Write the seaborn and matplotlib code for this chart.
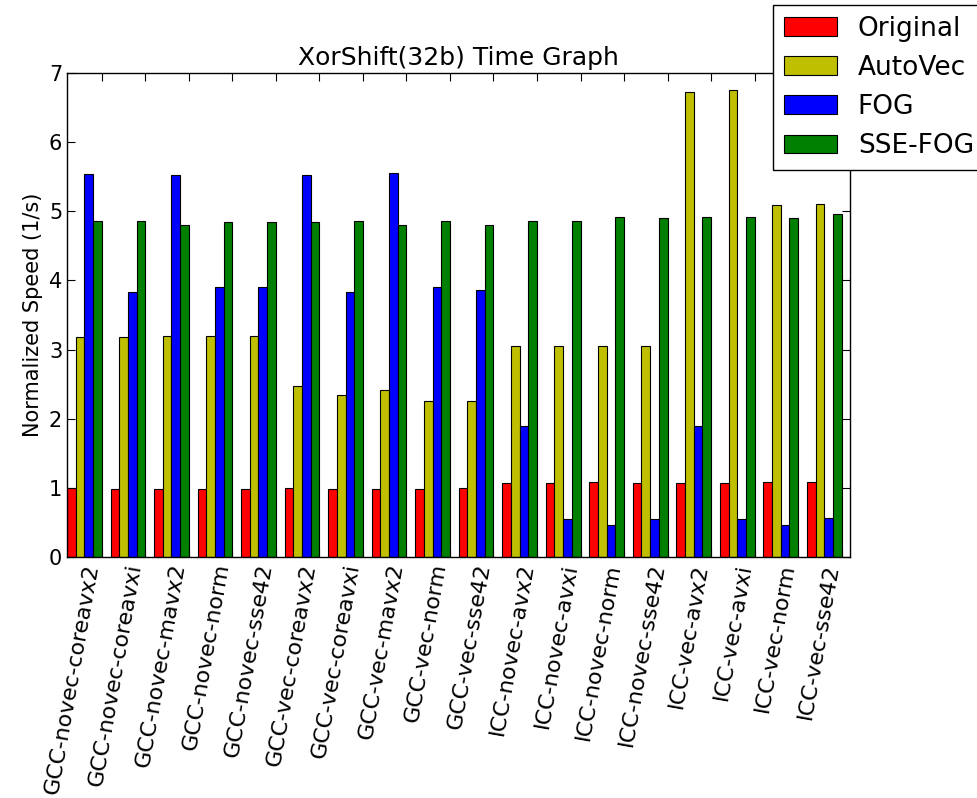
import numpy as np
import pandas as pd
import matplotlib
matplotlib.use("Agg")
import matplotlib.pyplot as plt
import seaborn as sns

# configuraciones compiladas
configs = [
    "GCC-novec-coreavx2", "GCC-novec-coreavxi", "GCC-novec-mavx2", "GCC-novec-norm",
    "GCC-novec-sse42", "GCC-vec-coreavx2", "GCC-vec-coreavxi", "GCC-vec-mavx2",
    "GCC-vec-norm", "GCC-vec-sse42", "ICC-novec-avx2", "ICC-novec-avxi",
    "ICC-novec-norm", "ICC-novec-sse42", "ICC-vec-avx2", "ICC-vec-avxi",
    "ICC-vec-norm", "ICC-vec-sse42",
]
series = ["Original", "AutoVec", "FOG", "SSE-FOG"]
colors = ["r", "y", "b", "g"]

original = [1.00, 0.98, 0.98, 0.98, 0.98, 1.00, 0.98, 0.98, 0.98, 1.00,
            1.07, 1.07, 1.09, 1.07, 1.07, 1.07, 1.09, 1.09]
autovec = [3.18, 3.18, 3.20, 3.20, 3.20, 2.48, 2.35, 2.42, 2.25, 2.25,
           3.05, 3.05, 3.05, 3.05, 6.72, 6.76, 5.09, 5.11]
fog = [5.54, 3.84, 5.52, 3.90, 3.90, 5.52, 3.84, 5.56, 3.90, 3.86,
       1.90, 0.55, 0.46, 0.55, 1.90, 0.55, 0.46, 0.56]
sse_fog = [4.86, 4.86, 4.80, 4.84, 4.84, 4.84, 4.86, 4.80, 4.86, 4.80,
           4.86, 4.86, 4.92, 4.90, 4.92, 4.92, 4.90, 4.96]

df = pd.DataFrame({
    "Config": configs * 4,
    "Serie": [s for s in series for _ in configs],
    "Speed": original + autovec + fog + sse_fog,
})

plt.rcParams["xtick.direction"] = "in"
plt.rcParams["ytick.direction"] = "in"
plt.rcParams["font.family"] = ["DejaVu Sans"]

fig = plt.figure(figsize=(9.78, 7.98), dpi=100)
ax = fig.add_axes([0.0685, 0.302, 0.801, 0.6065])

sns.barplot(data=df, x="Config", y="Speed", hue="Serie", hue_order=series,
            palette=colors, saturation=1, edgecolor="black", linewidth=0.8,
            width=0.8, ax=ax)

n = len(configs)
ax.set_xlim(-0.4, n - 0.4)
ax.set_ylim(0, 7)
ax.set_xticks(np.arange(n) + 0.4)
ax.set_xticklabels(configs, rotation=80, ha="right", fontsize=16)
ax.set_yticks(range(8))
ax.tick_params(axis="y", labelsize=15)
ax.tick_params(top=True, right=True, length=6, width=0.8, color="black")
ax.set_xlabel("")
ax.set_ylabel("Normalized Speed (1/s)", fontsize=15)
ax.set_title("XorShift(32b) Time Graph", fontsize=18)
for sp in ax.spines.values():
    sp.set_color("black")
    sp.set_linewidth(1)

sns.move_legend(ax, "upper left", bbox_to_anchor=(0.9017, 1.1405), title=None,
                frameon=True, fancybox=False, framealpha=1, borderaxespad=0,
                fontsize=19, edgecolor="black")
ax.get_legend().get_frame().set_linewidth(1)

fig.savefig("out.png", dpi=100)
